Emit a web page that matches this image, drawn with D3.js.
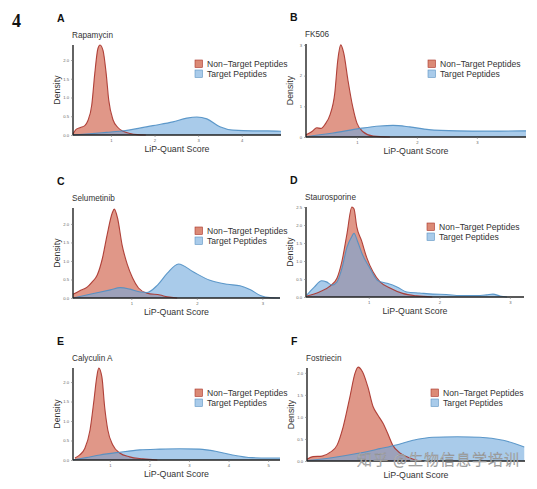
<!DOCTYPE html>
<html><head><meta charset="utf-8">
<script src="https://cdn.jsdelivr.net/npm/d3@7"></script>
<style>body{margin:0;background:#fff}svg{display:block}</style>
</head><body>
<svg id="chart" width="537" height="489"></svg>
<script>
// ---------- data ----------
const drugs = ["Rapamycin", "FK506", "Selumetinib", "Staurosporine", "Calyculin A", "Fostriecin"];
const panelLetters = ["A", "B", "C", "D", "E", "F"];
const seriesNames = ["Non\u2212Target Peptides", "Target Peptides"];
const xDomains = [[0.13, 4.9], [0.15, 3.82], [0.11, 3.27], [0.11, 3.2], [0.07, 5.3], [0.1, 3.0]];
const yMaxes = [2.4, 3.03, 2.43, 2.5, 2.36, 2.11];
const xTickValues = [[1, 2, 3, 4], [1, 2, 3], [1, 2, 3], [1, 2, 3], [1, 2, 3, 4, 5], []];
const yTickValues = [[0, 0.5, 1, 1.5, 2], [0, 1, 2, 3], [0, 0.5, 1, 1.5, 2], [0, 0.5, 1, 1.5, 2, 2.5], [0, 0.5, 1, 1.5, 2], [0, 0.5, 1, 1.5, 2]];
const yTickDecimals = [1, 0, 1, 1, 1, 1];

const rapamycinNonX = [0.13, 0.2, 0.3, 0.4, 0.47, 0.56, 0.63, 0.7, 0.75, 0.82, 0.89, 0.95, 1.05, 1.16, 1.28, 1.44, 1.6, 1.8];
const rapamycinNonD = [0.03, 0.15, 0.2, 0.25, 0.38, 0.8, 1.65, 2.3, 2.4, 2.25, 1.65, 0.93, 0.4, 0.2, 0.1, 0.04, 0.01, 0];
const rapamycinTgtX = [0.13, 0.5, 0.9, 1.2, 1.5, 1.96, 2.42, 2.74, 2.97, 3.2, 3.5, 3.8, 4.26, 4.6, 4.9];
const rapamycinTgtD = [0.0, 0.03, 0.07, 0.1, 0.15, 0.25, 0.35, 0.45, 0.48, 0.43, 0.22, 0.13, 0.11, 0.11, 0.1];

const fk506NonX = [0.15, 0.25, 0.33, 0.4, 0.47, 0.55, 0.63, 0.68, 0.73, 0.78, 0.85, 0.93, 1.0, 1.1, 1.27, 1.55];
const fk506NonD = [0.07, 0.18, 0.3, 0.28, 0.42, 0.72, 1.43, 2.5, 3.0, 2.73, 1.85, 0.98, 0.45, 0.17, 0.03, 0];
const fk506TgtX = [0.15, 0.6, 1.05, 1.38, 1.6, 1.88, 2.2, 2.67, 3.17, 3.82];
const fk506TgtD = [0.01, 0.13, 0.28, 0.36, 0.38, 0.33, 0.24, 0.2, 0.19, 0.2];

const selumetinibNonX = [0.11, 0.22, 0.33, 0.4, 0.48, 0.56, 0.63, 0.71, 0.74, 0.79, 0.86, 0.94, 1.02, 1.11, 1.24, 1.44, 1.55, 1.7];
const selumetinibNonD = [0.1, 0.2, 0.3, 0.43, 0.62, 1.08, 1.7, 2.3, 2.4, 2.16, 1.43, 0.9, 0.54, 0.27, 0.13, 0.08, 0.03, 0];
const selumetinibTgtX = [0.11, 0.42, 0.68, 0.83, 0.98, 1.14, 1.24, 1.4, 1.55, 1.72, 1.95, 2.2, 2.47, 2.66, 2.82, 2.97, 3.12, 3.27];
const selumetinibTgtD = [0.0, 0.12, 0.22, 0.28, 0.24, 0.16, 0.15, 0.35, 0.67, 0.92, 0.7, 0.48, 0.37, 0.33, 0.22, 0.07, 0.01, 0];

const staurosporineNonX = [0.12, 0.3, 0.45, 0.55, 0.62, 0.69, 0.76, 0.79, 0.83, 0.9, 0.97, 1.06, 1.16, 1.3, 1.48, 1.68, 1.9];
const staurosporineNonD = [0.03, 0.14, 0.3, 0.53, 1.0, 1.75, 2.5, 2.45, 1.95, 1.55, 1.1, 0.7, 0.42, 0.25, 0.1, 0.03, 0];
const staurosporineTgtX = [0.12, 0.23, 0.33, 0.4, 0.48, 0.55, 0.62, 0.69, 0.76, 0.79, 0.84, 0.91, 1.01, 1.13, 1.26, 1.4, 1.54, 1.72, 1.91, 2.1, 2.29, 2.53, 2.67, 2.76, 2.86, 2.96];
const staurosporineTgtD = [0.05, 0.28, 0.45, 0.42, 0.33, 0.42, 0.8, 1.38, 1.68, 1.77, 1.55, 1.18, 0.82, 0.45, 0.38, 0.28, 0.14, 0.11, 0.08, 0.07, 0.04, 0.04, 0.06, 0.08, 0.03, 0];

const calyculinNonX = [0.12, 0.24, 0.37, 0.5, 0.6, 0.67, 0.72, 0.8, 0.87, 0.95, 1.08, 1.25, 1.5, 1.83, 2.2];
const calyculinNonD = [0.05, 0.13, 0.3, 0.77, 1.54, 2.13, 2.36, 2.13, 1.36, 0.77, 0.38, 0.18, 0.08, 0.03, 0];
const calyculinTgtX = [0.07, 0.4, 0.75, 1.25, 1.76, 2.26, 2.77, 3.27, 3.7, 4.1, 4.6, 5.0, 5.3];
const calyculinTgtD = [0.0, 0.06, 0.13, 0.2, 0.26, 0.28, 0.29, 0.28, 0.22, 0.13, 0.06, 0.05, 0.05];

const fostriecinNonX = [0.1, 0.18, 0.3, 0.41, 0.5, 0.58, 0.67, 0.74, 0.78, 0.84, 0.91, 0.98, 1.04, 1.11, 1.18, 1.24, 1.34, 1.47, 1.6];
const fostriecinNonD = [0.04, 0.1, 0.11, 0.2, 0.36, 0.77, 1.45, 2.0, 2.13, 2.02, 1.68, 1.23, 1.05, 0.86, 0.6, 0.36, 0.18, 0.07, 0];
const fostriecinTgtX = [0.1, 0.45, 0.8, 1.07, 1.3, 1.51, 1.78, 2.1, 2.4, 2.71, 2.99];
const fostriecinTgtD = [0.01, 0.08, 0.18, 0.28, 0.37, 0.47, 0.54, 0.55, 0.54, 0.47, 0.32];

const nonTargetX = [rapamycinNonX, fk506NonX, selumetinibNonX, staurosporineNonX, calyculinNonX, fostriecinNonX];
const nonTargetD = [rapamycinNonD, fk506NonD, selumetinibNonD, staurosporineNonD, calyculinNonD, fostriecinNonD];
const targetX = [rapamycinTgtX, fk506TgtX, selumetinibTgtX, staurosporineTgtX, calyculinTgtX, fostriecinTgtX];
const targetD = [rapamycinTgtD, fk506TgtD, selumetinibTgtD, staurosporineTgtD, calyculinTgtD, fostriecinTgtD];

// ---------- layout ----------
const boxes = [
  {l: 73, r: 281, t: 45, b: 135, leg: 60, lx: 195},
  {l: 306, r: 526, t: 44, b: 137, leg: 60, lx: 428},
  {l: 73, r: 280, t: 208, b: 298, leg: 227, lx: 195},
  {l: 306, r: 524, t: 207, b: 297, leg: 223, lx: 427},
  {l: 73, r: 280, t: 368, b: 460, leg: 389, lx: 195},
  {l: 307, r: 525, t: 368, b: 461, leg: 389, lx: 431}
];
const fillColors = ["#cf5f48", "#6fa8dc"];
const fillOpacity = [0.65, 0.6];
const lineColors = ["#a8322a", "#4f8fc4"];
const swatchFill = ["#db8a76", "#a9cbea"];
const swatchStroke = ["#a8322a", "#5c93c2"];

const svg = d3.select("#chart");
const font = "'Liberation Sans', Arial, Helvetica, sans-serif";

svg.append("text").attr("x", 12).attr("y", 27)
  .attr("font-family", "'Liberation Serif', 'Times New Roman', serif")
  .attr("font-weight", "bold").attr("font-size", 18).attr("fill", "#111").text("4");

boxes.forEach((bx, i) => {
  const g = svg.append("g");
  const x = d3.scaleLinear().domain(xDomains[i]).range([bx.l, bx.r]);
  const y = d3.scaleLinear().domain([0, yMaxes[i]]).range([bx.b, bx.t]);

  const series = [
    d3.zip(nonTargetX[i], nonTargetD[i]),
    d3.zip(targetX[i], targetD[i])
  ];
  const area = d3.area().x(d => x(d[0])).y0(y(0)).y1(d => y(d[1])).curve(d3.curveMonotoneX);
  const line = d3.line().x(d => x(d[0])).y(d => y(d[1])).curve(d3.curveMonotoneX);

  series.forEach((s, k) => {
    g.append("path").attr("d", area(s)).attr("fill", fillColors[k]).attr("fill-opacity", fillOpacity[k]);
  });
  series.forEach((s, k) => {
    g.append("path").attr("d", line(s)).attr("fill", "none").attr("stroke", lineColors[k])
      .attr("stroke-width", 1.1).attr("stroke-opacity", 0.9);
  });

  // axes
  const xAxis = d3.axisBottom(x).tickValues(xTickValues[i]).tickSize(2).tickPadding(2).tickFormat(d3.format("d"));
  const yAxis = d3.axisLeft(y).tickValues(yTickValues[i]).tickSize(2).tickPadding(2)
    .tickFormat(d3.format("." + yTickDecimals[i] + "f"));
  const gx = g.append("g").attr("transform", `translate(0,${bx.b})`).call(xAxis);
  const gy = g.append("g").attr("transform", `translate(${bx.l},0)`).call(yAxis);
  [gx, gy].forEach(a => {
    a.select(".domain").attr("stroke", "#222").attr("stroke-width", 1.4);
    a.selectAll(".tick line").attr("stroke", "#777").attr("stroke-width", 0.6);
    a.selectAll(".tick text").attr("font-size", 4.2).attr("fill", "#666").attr("font-family", font);
  });
  gx.select(".domain").attr("d", `M${bx.l},0H${bx.r}`);
  gy.select(".domain").attr("d", `M0,${bx.b}V${bx.t}`);

  // axis titles
  g.append("text").attr("x", (bx.l + bx.r) / 2).attr("y", bx.b + 17).attr("text-anchor", "middle")
    .attr("font-family", font).attr("font-size", 8.8).attr("fill", "#333").text("LiP-Quant Score");
  g.append("text").attr("transform", `translate(${bx.l - 13},${(bx.t + bx.b) / 2}) rotate(-90)`)
    .attr("text-anchor", "middle").attr("font-family", font).attr("font-size", 8.8).attr("fill", "#333").text("Density");

  // panel letter and title
  g.append("text").attr("x", bx.l - 16).attr("y", bx.t - 23).attr("font-family", font)
    .attr("font-weight", "bold").attr("font-size", 10.5).attr("fill", "#111").text(panelLetters[i]);
  g.append("text").attr("x", bx.l - 1).attr("y", bx.t - 7).attr("font-family", font)
    .attr("font-size", 8.2).attr("fill", "#333").text(drugs[i]);

  // legend
  seriesNames.forEach((nm, k) => {
    const yy = bx.leg + k * 10;
    g.append("rect").attr("x", bx.lx).attr("y", yy).attr("width", 7.5).attr("height", 7.5)
      .attr("fill", swatchFill[k]).attr("stroke", swatchStroke[k]).attr("stroke-width", 0.6);
    g.append("text").attr("x", bx.lx + 12).attr("y", yy + 7).attr("font-family", font)
      .attr("font-size", 8.6).attr("fill", "#333").text(nm);
  });
});

// watermark
svg.append("text").attr("x", 357).attr("y", 465)
  .attr("font-family", "'Noto Sans CJK SC', sans-serif").attr("font-size", 15).attr("font-weight", 300)
  .attr("fill", "#ffffff").attr("fill-opacity", 0.9).attr("stroke", "#8a8a8a").attr("stroke-width", 0.5)
  .attr("letter-spacing", 1)
  .text("知乎 @生物信息学培训");
</script>
</body></html>
